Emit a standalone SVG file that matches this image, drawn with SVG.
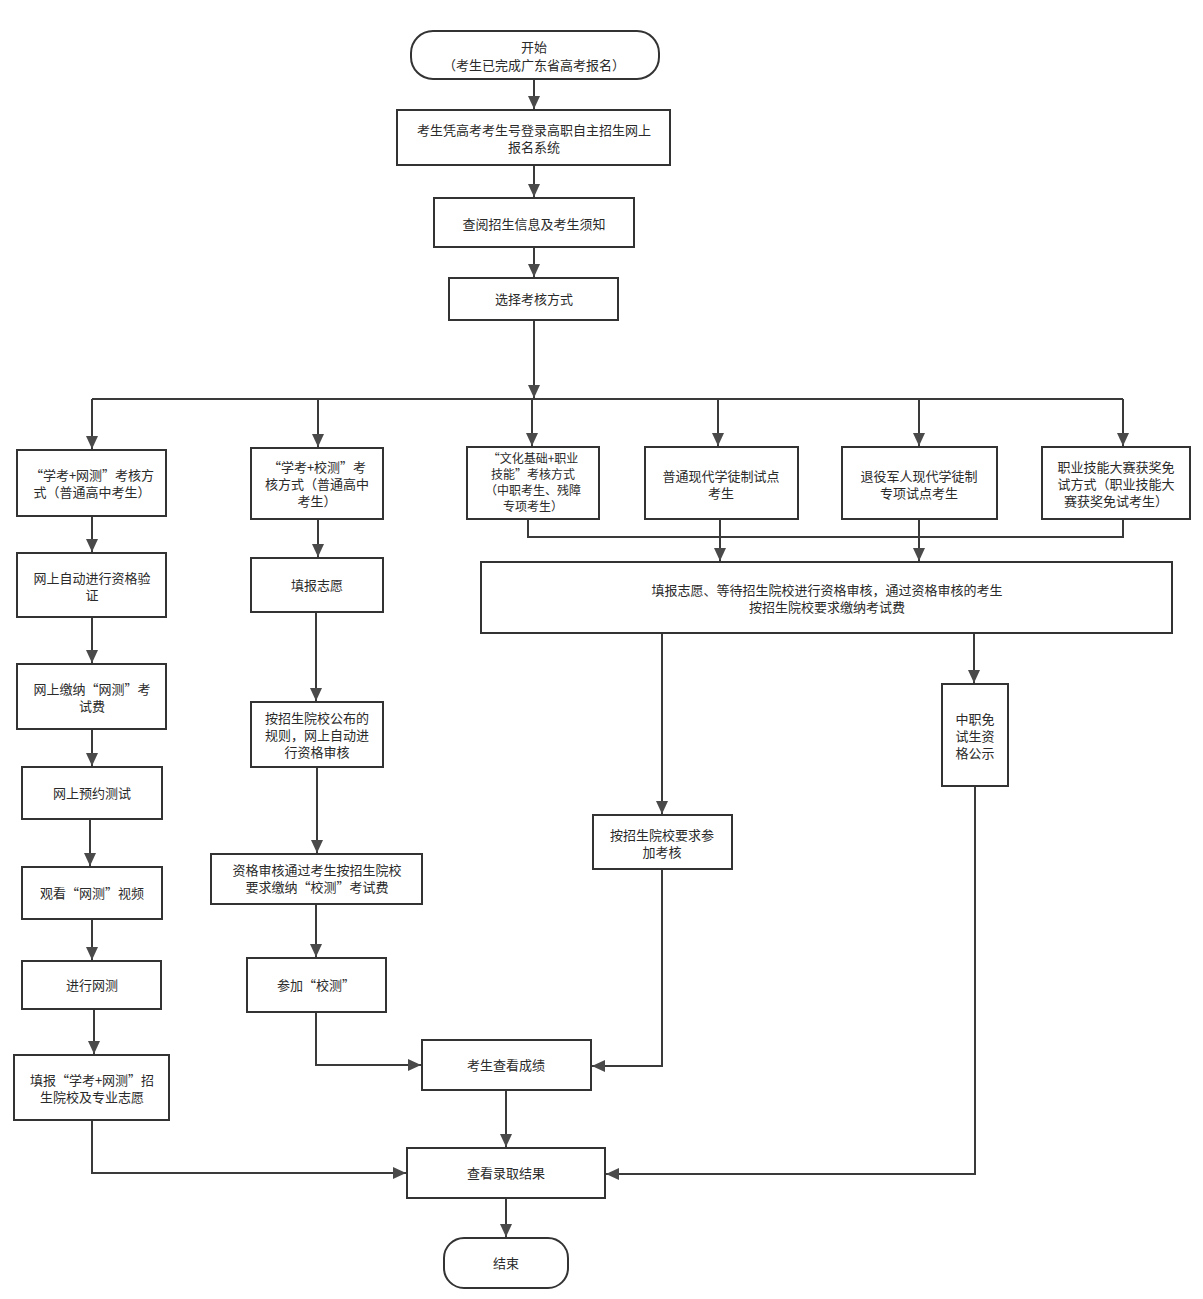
<svg xmlns="http://www.w3.org/2000/svg" width="1203" height="1299" viewBox="0 0 1203 1299">
<style>
.n rect{fill:#fff;stroke:#333;stroke-width:2}
.n text{font-family:"Noto Sans CJK SC","Noto Sans",sans-serif;font-size:13px;fill:#2a2a2a;text-anchor:middle}
#b3 text{font-size:12px}
.c path{fill:none;stroke:#3a3a3a;stroke-width:2}
</style>
<defs>
<marker id="ah" markerUnits="userSpaceOnUse" markerWidth="14" markerHeight="12" refX="13" refY="6" orient="auto">
<path d="M0,0 L13,6 L0,12 Z" fill="#4a4a4a"/>
</marker>
</defs>
<rect width="1203" height="1299" fill="#fff"/>
<g class="c">
<path d="M534,79 V109" marker-end="url(#ah)"/>
<path d="M534,165 V197" marker-end="url(#ah)"/>
<path d="M534,247 V277" marker-end="url(#ah)"/>
<path d="M534,320 V398" marker-end="url(#ah)"/>
<path d="M92,399 H1123"/>
<path d="M92,399 V449" marker-end="url(#ah)"/>
<path d="M318,399 V447" marker-end="url(#ah)"/>
<path d="M532,399 V446" marker-end="url(#ah)"/>
<path d="M718,399 V446" marker-end="url(#ah)"/>
<path d="M919,399 V446" marker-end="url(#ah)"/>
<path d="M1123,399 V446" marker-end="url(#ah)"/>
<path d="M528,519 V537 H1123 V519"/>
<path d="M720,519 V561" marker-end="url(#ah)"/>
<path d="M919,519 V561" marker-end="url(#ah)"/>
<path d="M662,633 V814" marker-end="url(#ah)"/>
<path d="M974,633 V683" marker-end="url(#ah)"/>
<path d="M92,516 V552" marker-end="url(#ah)"/>
<path d="M92,617 V663" marker-end="url(#ah)"/>
<path d="M92,729 V766" marker-end="url(#ah)"/>
<path d="M90,819 V866" marker-end="url(#ah)"/>
<path d="M92,919 V960" marker-end="url(#ah)"/>
<path d="M94,1009 V1054" marker-end="url(#ah)"/>
<path d="M92,1120 V1173 H406" marker-end="url(#ah)"/>
<path d="M318,519 V557" marker-end="url(#ah)"/>
<path d="M316,612 V701" marker-end="url(#ah)"/>
<path d="M317,767 V853" marker-end="url(#ah)"/>
<path d="M316,904 V957" marker-end="url(#ah)"/>
<path d="M316,1012 V1065 H421" marker-end="url(#ah)"/>
<path d="M662,869 V1066 H592" marker-end="url(#ah)"/>
<path d="M506,1090 V1147" marker-end="url(#ah)"/>
<path d="M975,786 V1174 H606" marker-end="url(#ah)"/>
<path d="M506,1198 V1237" marker-end="url(#ah)"/>
</g>
<g class="n" id="start"><rect x="411" y="31" width="248" height="48" rx="22"/><text x="534" y="52">开始</text><text x="534" y="70">（考生已完成广东省高考报名）</text></g>
<g class="n" id="login"><rect x="397" y="110" width="273" height="55"/><text x="534" y="135">考生凭高考考生号登录高职自主招生网上</text><text x="534" y="152">报名系统</text></g>
<g class="n" id="info"><rect x="434" y="198" width="200" height="49"/><text x="534" y="229">查阅招生信息及考生须知</text></g>
<g class="n" id="choose"><rect x="449" y="278" width="169" height="42"/><text x="534" y="304">选择考核方式</text></g>
<g class="n" id="b1"><rect x="17" y="450" width="149" height="66"/><text x="92" y="480">“学考+网测”考核方</text><text x="92" y="497">式（普通高中考生）</text></g>
<g class="n" id="b2"><rect x="251" y="448" width="132" height="71"/><text x="317" y="472">“学考+校测”考</text><text x="317" y="489">核方式（普通高中</text><text x="317" y="506">考生）</text></g>
<g class="n" id="b3"><rect x="467" y="447" width="132" height="72"/><text x="533" y="463">“文化基础+职业</text><text x="533" y="479">技能”考核方式</text><text x="533" y="495">（中职考生、残障</text><text x="533" y="511">专项考生）</text></g>
<g class="n" id="b4"><rect x="645" y="447" width="153" height="72"/><text x="721" y="481">普通现代学徒制试点</text><text x="721" y="498">考生</text></g>
<g class="n" id="b5"><rect x="842" y="447" width="155" height="72"/><text x="919" y="481">退役军人现代学徒制</text><text x="919" y="498">专项试点考生</text></g>
<g class="n" id="b6"><rect x="1042" y="447" width="148" height="72"/><text x="1116" y="472">职业技能大赛获奖免</text><text x="1116" y="489">试方式（职业技能大</text><text x="1116" y="506">赛获奖免试考生）</text></g>
<g class="n" id="big"><rect x="481" y="562" width="691" height="71"/><text x="827" y="595">填报志愿、等待招生院校进行资格审核，通过资格审核的考生</text><text x="827" y="612">按招生院校要求缴纳考试费</text></g>
<g class="n" id="l2"><rect x="17" y="553" width="149" height="64"/><text x="92" y="583">网上自动进行资格验</text><text x="92" y="600">证</text></g>
<g class="n" id="l3"><rect x="17" y="664" width="149" height="65"/><text x="92" y="694">网上缴纳“网测”考</text><text x="92" y="711">试费</text></g>
<g class="n" id="l4"><rect x="22" y="767" width="140" height="52"/><text x="92" y="798">网上预约测试</text></g>
<g class="n" id="l5"><rect x="22" y="867" width="140" height="52"/><text x="92" y="898">观看“网测”视频</text></g>
<g class="n" id="l6"><rect x="22" y="961" width="139" height="48"/><text x="92" y="990">进行网测</text></g>
<g class="n" id="l7"><rect x="14" y="1055" width="155" height="65"/><text x="92" y="1085">填报“学考+网测”招</text><text x="92" y="1102">生院校及专业志愿</text></g>
<g class="n" id="m2"><rect x="251" y="558" width="132" height="54"/><text x="317" y="590">填报志愿</text></g>
<g class="n" id="m3"><rect x="251" y="702" width="132" height="65"/><text x="317" y="723">按招生院校公布的</text><text x="317" y="740">规则，网上自动进</text><text x="317" y="757">行资格审核</text></g>
<g class="n" id="m4"><rect x="211" y="854" width="211" height="50"/><text x="317" y="875">资格审核通过考生按招生院校</text><text x="317" y="892">要求缴纳“校测”考试费</text></g>
<g class="n" id="m5"><rect x="247" y="958" width="139" height="54"/><text x="316" y="990">参加“校测”</text></g>
<g class="n" id="r1"><rect x="593" y="815" width="139" height="54"/><text x="662" y="840">按招生院校要求参</text><text x="662" y="857">加考核</text></g>
<g class="n" id="r2"><rect x="942" y="684" width="66" height="102"/><text x="975" y="724">中职免</text><text x="975" y="741">试生资</text><text x="975" y="758">格公示</text></g>
<g class="n" id="score"><rect x="422" y="1040" width="169" height="50"/><text x="506" y="1070">考生查看成绩</text></g>
<g class="n" id="result"><rect x="407" y="1148" width="198" height="50"/><text x="506" y="1178">查看录取结果</text></g>
<g class="n" id="end"><rect x="444" y="1238" width="124" height="50" rx="20"/><text x="506" y="1268">结束</text></g>
</svg>
